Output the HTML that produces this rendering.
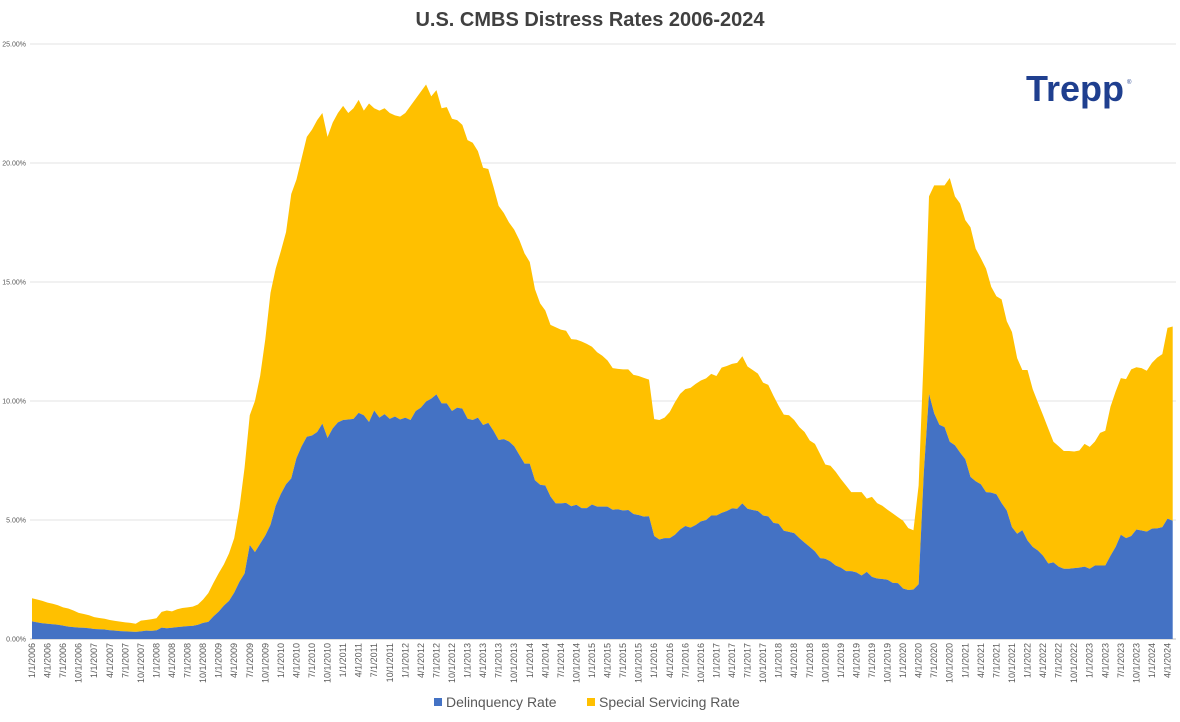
<!DOCTYPE html>
<html><head><meta charset="utf-8">
<style>
html,body{margin:0;padding:0;background:#fff;}
body{width:1180px;height:717px;overflow:hidden;font-family:"Liberation Sans",sans-serif;}
</style></head>
<body>
<svg id="chart" width="1180" height="717" xmlns="http://www.w3.org/2000/svg">
  <text x="590" y="26" text-anchor="middle" font-family="Liberation Sans, sans-serif" font-size="20" font-weight="bold" fill="#404040">U.S. CMBS Distress Rates 2006-2024</text>
  <g id="grid"></g>
  <g id="yticks"></g>
  <g id="areas"></g>
  <g id="xticks"></g>
  <text x="1026" y="101" font-family="Liberation Sans, sans-serif" font-size="36" font-weight="bold" fill="#1f3f8f">Trepp</text>
  <text x="1127" y="84" font-size="6" fill="#1f3f8f">®</text>
  <g>
    <g>
      <rect x="434" y="698" width="8" height="8" fill="#4472C4"/>
      <text x="446" y="707" font-size="14" fill="#595959" font-family="Liberation Sans, sans-serif">Delinquency Rate</text>
    </g>
    <g>
      <rect x="587" y="698" width="8" height="8" fill="#FFC000"/>
      <text x="599" y="707" font-size="14" fill="#595959" font-family="Liberation Sans, sans-serif">Special Servicing Rate</text>
    </g>
  </g>
</svg>
<script>
const yTickValues = [0, 5, 10, 15, 20, 25];
const startYear = 2006;
const delinquencyRate = [
0.74,0.7,0.66,0.64,0.62,0.6,0.56,0.52,0.5,0.48,0.47,0.45,0.42,0.41,0.4,0.37,0.35,0.33,0.32,0.31,
0.3,0.32,0.35,0.34,0.36,0.48,0.45,0.47,0.5,0.52,0.54,0.55,0.6,0.68,0.72,0.95,1.15,1.4,1.6,1.95,
2.4,2.75,3.95,3.65,4.0,4.35,4.8,5.6,6.1,6.5,6.75,7.6,8.1,8.5,8.55,8.7,9.05,8.45,8.85,9.1,
9.2,9.22,9.25,9.5,9.4,9.12,9.6,9.3,9.45,9.25,
9.35,9.22,9.3,9.2,9.58,9.72,9.98,10.1,10.28,9.9,9.9,9.58,9.72,9.68,9.26,9.2,9.3,8.99,9.08,8.75,
8.36,8.4,8.3,8.1,7.73,7.37,7.37,6.67,6.48,6.45,5.99,5.7,5.7,5.72,5.58,5.64,5.5,5.5,5.65,5.56,
5.56,5.56,5.43,5.45,5.4,5.42,5.25,5.21,5.14,5.16,4.33,4.18,4.24,4.24,4.38,4.6,4.75,4.68,4.79,4.94,
5.0,5.19,5.19,5.3,5.38,5.49,5.47,5.7,5.47,5.42,5.38,5.19,5.15,4.88,4.84,4.55,4.5,4.45,4.24,4.05,
3.87,3.68,3.4,3.37,3.26,3.09,3.0,2.85,2.85,2.8,2.67,2.82,2.61,2.54,2.52,2.49,2.36,2.35,2.12,2.06,
2.08,2.3,7.0,10.3,9.48,9.0,8.9,8.29,8.14,7.83,7.55,6.81,6.63,6.5,6.17,6.15,6.08,5.71,5.4,4.7,
4.42,4.57,4.14,3.87,3.72,3.5,3.17,3.22,3.04,2.95,2.95,2.98,3.0,3.04,2.95,3.09,3.09,3.09,3.5,3.87,
4.38,4.24,4.33,4.6,4.56,4.51,4.64,4.65,4.7,5.06,4.97];
const totalDistressRate = [
1.71,1.66,1.6,1.53,1.48,1.42,1.33,1.28,1.2,1.1,1.05,1.0,0.92,0.88,0.85,0.8,0.76,0.73,0.7,0.68,
0.64,0.77,0.8,0.83,0.87,1.14,1.2,1.16,1.25,1.3,1.33,1.36,1.45,1.66,1.93,2.36,2.76,3.13,3.6,4.24,
5.5,7.2,9.4,10.0,11.05,12.6,14.55,15.56,16.3,17.1,18.7,19.3,20.2,21.1,21.4,21.8,22.1,21.1,21.7,22.1,
22.4,22.1,22.3,22.65,22.2,22.5,22.3,22.2,22.3,22.1,
22.0,21.95,22.1,22.4,22.7,23.0,23.3,22.8,23.06,22.3,22.35,21.86,21.8,21.6,20.96,20.85,20.5,19.8,19.75,19.0,
18.2,17.9,17.5,17.2,16.76,16.2,15.84,14.7,14.1,13.8,13.2,13.1,13.0,12.95,12.6,12.58,12.5,12.4,12.28,12.05,
11.9,11.7,11.38,11.35,11.33,11.33,11.1,11.05,10.97,10.9,9.24,9.2,9.3,9.54,9.95,10.3,10.5,10.55,10.72,10.86,
10.95,11.14,11.05,11.4,11.47,11.56,11.6,11.88,11.45,11.3,11.15,10.77,10.68,10.22,9.8,9.43,9.4,9.2,8.9,8.7,
8.34,8.2,7.77,7.33,7.28,7.03,6.72,6.45,6.17,6.17,6.17,5.9,5.97,5.71,5.6,5.43,5.28,5.12,4.97,4.66,
4.57,6.45,12.0,18.6,19.06,19.06,19.06,19.37,18.6,18.3,17.6,17.3,16.4,16.0,15.56,14.8,14.4,14.27,13.35,12.9,
11.8,11.3,11.3,10.5,9.94,9.4,8.84,8.29,8.1,7.9,7.9,7.88,7.92,8.2,8.07,8.3,8.66,8.75,9.76,10.4,
10.96,10.92,11.33,11.42,11.38,11.27,11.6,11.82,11.97,13.07,13.13];

const NS = "http://www.w3.org/2000/svg";
const X0 = 32, STEP = 5.185, Y0 = 639, YPX = 23.8;
function xs(i){ return X0 + i * STEP; }
function ys(v){ return Y0 - v * YPX; }

const grid = document.getElementById('grid');
const yt = document.getElementById('yticks');
yTickValues.forEach(v => {
  const l = document.createElementNS(NS, 'line');
  l.setAttribute('x1', 30); l.setAttribute('x2', 1176);
  l.setAttribute('y1', ys(v)); l.setAttribute('y2', ys(v));
  l.setAttribute('stroke', v === 0 ? '#bfbfbf' : '#e3e3e3'); l.setAttribute('stroke-width', 1);
  
  
  grid.appendChild(l);
  const t = document.createElementNS(NS, 'text');
  t.setAttribute('x', 26); t.setAttribute('y', ys(v) + 2.5);
  t.setAttribute('text-anchor', 'end'); t.setAttribute('font-size', '7');
  t.setAttribute('fill', '#595959');
  t.textContent = v.toFixed(2) + '%';
  
  
  yt.appendChild(t);
});

const areas = document.getElementById('areas');
const n = delinquencyRate.length;
let topPts = [], delPts = [];
for (let i = 0; i < n; i++) {
  topPts.push(xs(i).toFixed(2) + ',' + ys(totalDistressRate[i]).toFixed(2));
  delPts.push(xs(i).toFixed(2) + ',' + ys(delinquencyRate[i]).toFixed(2));
}
const ss = document.createElementNS(NS, 'polygon');
ss.setAttribute('points', topPts.join(' ') + ' ' + delPts.slice().reverse().join(' '));
ss.setAttribute('fill', '#FFC000');


areas.appendChild(ss);
const dl = document.createElementNS(NS, 'polygon');
dl.setAttribute('points', xs(0) + ',' + Y0 + ' ' + delPts.join(' ') + ' ' + xs(n - 1) + ',' + Y0);
dl.setAttribute('fill', '#4472C4');


areas.appendChild(dl);

const xt = document.getElementById('xticks');
for (let i = 0; i < n; i += 3) {
  const mo = (i % 12) + 1, yr = startYear + Math.floor(i / 12);
  const t = document.createElementNS(NS, 'text');
  const x = xs(i) + 3;
  t.setAttribute('x', x); t.setAttribute('y', 643);
  t.setAttribute('transform', 'rotate(-90 ' + x + ' 643)');
  t.setAttribute('text-anchor', 'end'); t.setAttribute('font-size', '9');
  t.setAttribute('fill', '#595959');
  t.textContent = mo + '/1/' + yr;
  
  
  xt.appendChild(t);
}
</script>
</body></html>
